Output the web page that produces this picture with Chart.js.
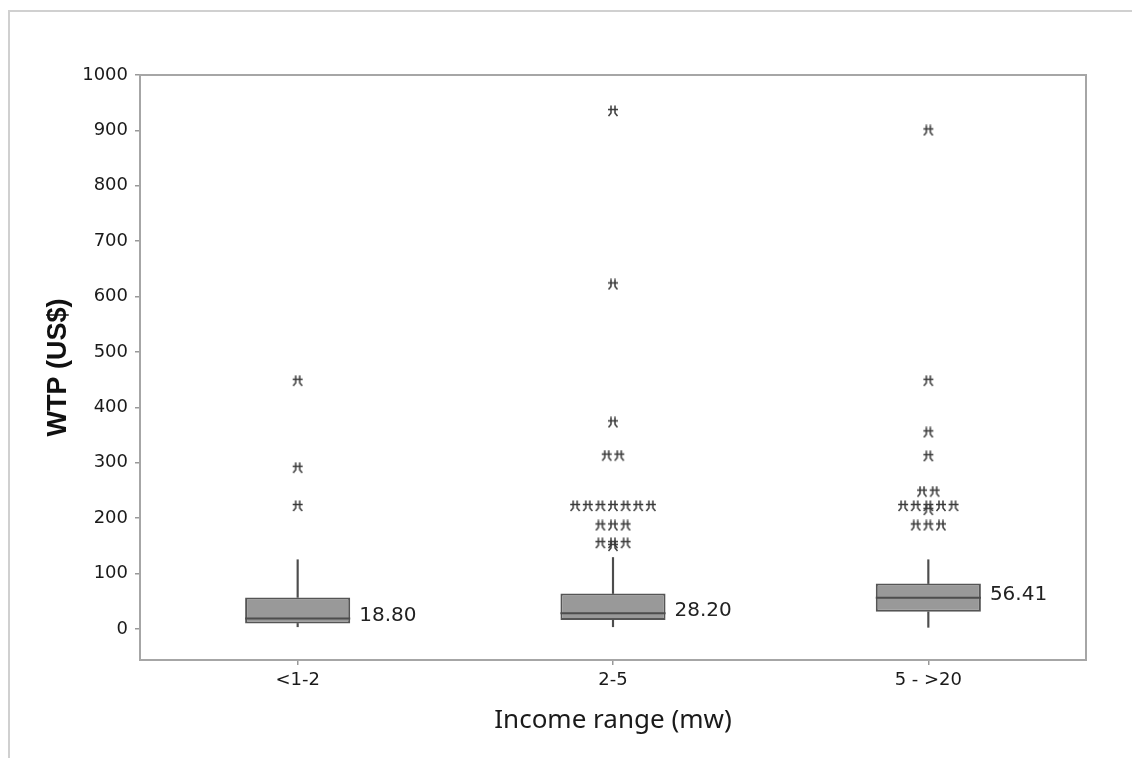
<!DOCTYPE html>
<html>
<head>
<meta charset="utf-8">
<script src="https://cdn.jsdelivr.net/npm/chart.js@4/dist/chart.umd.min.js"></script>
<style>
  html, body { margin: 0; padding: 0; background: #fff; }
  #frame { position: absolute; left: 8px; top: 10px; width: 1200px; height: 800px;
           border-top: 2px solid #d0d0d0; border-left: 2px solid #d0d0d0; }
  #chart { position: absolute; left: 0; top: 0; }
</style>
</head>
<body>
<div id="frame"></div>
<canvas id="chart" width="1132" height="758"></canvas>
<script>
// income groups and box statistics (WTP, US$)
const categories = ['<1-2', '2-5', '5 - >20'];
const q1 = [10, 16, 31];
const q3 = [57, 64, 82];
const medians = [18.80, 28.20, 56.41];
const whiskerLow = [4, 4, 3];
const whiskerHigh = [125, 129, 125];

// outliers per group (repeated values are ties)
const outliers1 = [448, 291, 222];
const outliers2 = [935, 622, 373, 313, 313, 222, 222, 222, 222, 222, 222, 222, 187, 187, 187, 155, 155, 155, 150];
const outliers3 = [900, 448, 355, 312, 248, 248, 222, 222, 222, 222, 222, 215, 187, 187, 187];

const yTicks = [0, 100, 200, 300, 400, 500, 600, 700, 800, 900, 1000];

const boxGray = '#999999';
const darkGray = '#4d4d4d';
const TIE_STEP = 0.04; // horizontal spread for tied outliers, in category units

// minitab-like asterisk glyph
function makeStar() {
  const c = document.createElement('canvas');
  c.width = 12; c.height = 12;
  const g = c.getContext('2d');
  g.strokeStyle = '#3a3a3a';
  g.lineWidth = 1.5;
  g.beginPath();
  g.moveTo(1, 4.5); g.lineTo(11, 4.5);
  g.moveTo(4, 0.5); g.lineTo(4, 8);
  g.lineTo(1.5, 11);
  g.moveTo(8, 0.5); g.lineTo(8, 8);
  g.lineTo(10.5, 11);
  g.stroke();
  return c;
}
const star = makeStar();

// spread ties sideways like minitab does
function spread(values, groupIndex) {
  const counts = {};
  values.forEach(v => { counts[v] = (counts[v] || 0) + 1; });
  const seen = {};
  return values.map(v => {
    const k = seen[v] || 0;
    seen[v] = k + 1;
    const off = (k - (counts[v] - 1) / 2) * TIE_STEP;
    return { x: groupIndex + 1 + off, y: v };
  });
}
const outlierPoints = [].concat(spread(outliers1, 0), spread(outliers2, 1), spread(outliers3, 2));

const ctx = document.getElementById('chart').getContext('2d');

const boxExtras = {
  id: 'boxExtras',
  afterDatasetsDraw(chart) {
    const { ctx, chartArea, scales } = chart;
    const boxes = chart.getDatasetMeta(2).data;
    ctx.save();
    // medians + labels
    boxes.forEach((bar, i) => {
      const y = scales.y.getPixelForValue(medians[i]);
      const left = bar.x - bar.width / 2;
      const right = bar.x + bar.width / 2;
      ctx.strokeStyle = darkGray;
      ctx.lineWidth = 2;
      ctx.beginPath();
      ctx.moveTo(left, y);
      ctx.lineTo(right, y);
      ctx.stroke();
      ctx.fillStyle = '#222';
      ctx.font = '20px "DejaVu Sans"';
      ctx.textBaseline = 'middle';
      ctx.textAlign = 'left';
      ctx.fillText(medians[i].toFixed(2), right + 9, y - 3);
    });
    // plot frame
    ctx.strokeStyle = '#a6a6a6';
    ctx.lineWidth = 2;
    ctx.strokeRect(chartArea.left, chartArea.top, chartArea.right - chartArea.left, chartArea.bottom - chartArea.top);
    ctx.restore();
  }
};

const chart = new Chart(ctx, {
  type: 'bar',
  data: {
    labels: categories,
    datasets: [{
      label: 'upper whisker',
      data: categories.map((c, i) => [q3[i], whiskerHigh[i]]),
      backgroundColor: darkGray,
      barThickness: 1.5,
      grouped: false
    }, {
      label: 'lower whisker',
      data: categories.map((c, i) => [whiskerLow[i], q1[i]]),
      backgroundColor: darkGray,
      barThickness: 1.5,
      grouped: false
    }, {
      label: 'box',
      data: categories.map((c, i) => [q1[i], q3[i]]),
      backgroundColor: boxGray,
      borderColor: '#555',
      borderWidth: 2,
      borderSkipped: false,
      categoryPercentage: 1,
      barPercentage: 1 / 3,
      grouped: false
    }, {
      label: 'outliers',
      type: 'scatter',
      data: outlierPoints,
      xAxisID: 'xs',
      pointStyle: star,
      pointRadius: 6,
      pointHoverRadius: 6
    }]
  },
  options: {
    responsive: false,
    animation: false,
    devicePixelRatio: 1,
    layout: { padding: { top: 75, right: 46, left: 0, bottom: 0 } },
    plugins: { legend: { display: false }, tooltip: { enabled: false } },
    scales: {
      x: {
        type: 'category',
        offset: true,
        border: { display: false },
        grid: { drawOnChartArea: false, drawTicks: true, tickLength: 5, tickColor: '#999', lineWidth: 1.5, offset: false },
        ticks: { color: '#1a1a1a', font: { family: 'DejaVu Sans', size: 18 }, padding: 5 },
        title: { display: true, text: 'Income range (mw)', color: '#1a1a1a',
                 font: { family: 'Noto Sans', size: 26 }, padding: { bottom: 22 } },
        afterFit: s => { s.height = 98; }
      },
      xs: {
        type: 'linear',
        display: false,
        offset: false,
        min: 0.5,
        max: 3.5
      },
      y: {
        min: -56,
        max: 1000,
        border: { display: false },
        grid: { drawOnChartArea: false, drawTicks: true, tickLength: 5, tickColor: '#999', lineWidth: 1.5 },
        ticks: { color: '#1a1a1a', font: { family: 'DejaVu Sans', size: 18 }, padding: 7,
                 callback: v => String(v) },
        afterBuildTicks: s => { s.ticks = yTicks.map(v => ({ value: v })); },
        title: { display: true, text: 'WTP (US$)', color: '#111',
                 font: { family: 'Liberation Sans', size: 27, weight: 'bold' }, padding: { top: 42 } },
        afterFit: s => { s.width = 140; }
      }
    }
  },
  plugins: [boxExtras]
});
</script>
</body>
</html>
